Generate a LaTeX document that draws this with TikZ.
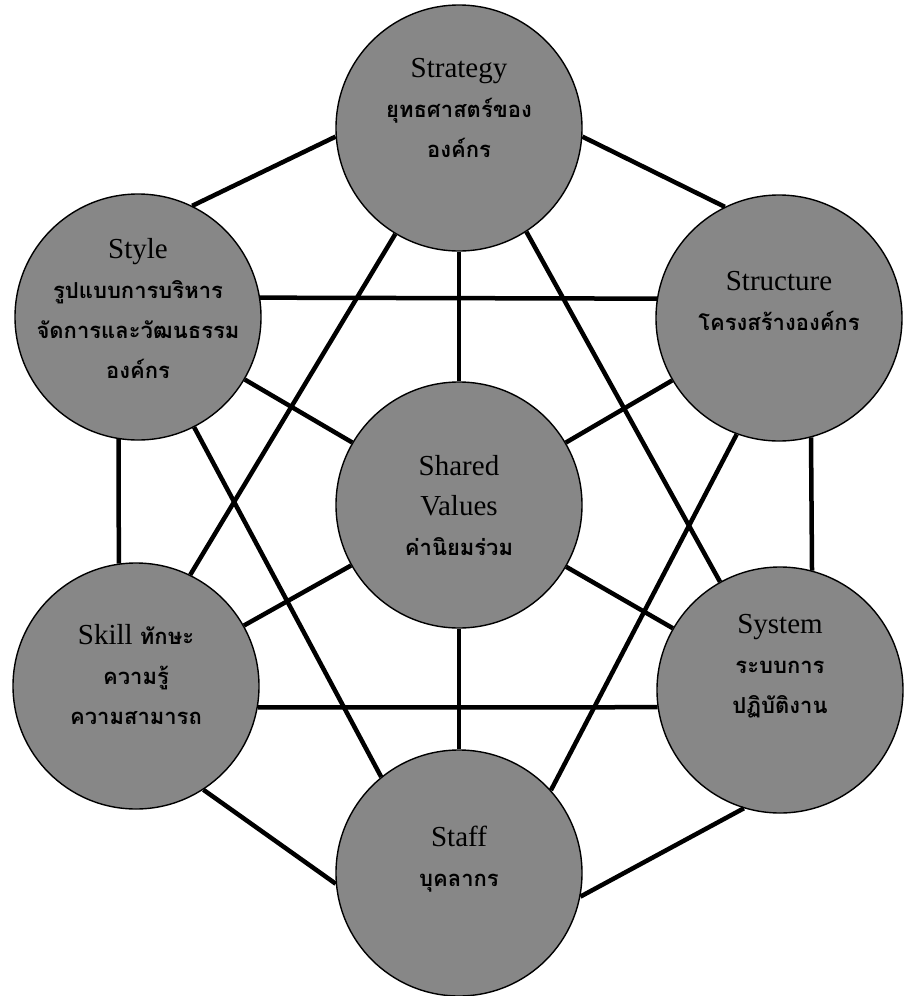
\documentclass[tikz,border=0pt]{standalone}
\usepackage{fontspec}
\setmainfont{Liberation Serif}
\newfontfamily\thaifont[Script=Thai]{Loma}
\newcommand{\thtxt}[1]{{\thaifont\bfseries\fontsize{22pt}{40pt}\selectfont #1}}

\begin{document}
\begin{tikzpicture}[x=1pt, y=-1pt,
    sbox/.style={draw, circle, minimum size=246pt, inner sep=0pt, fill=black!47, line width=1.4pt},
    ttext/.style={align=center, text=black, font=\fontsize{29pt}{40pt}\selectfont},
    link/.style={line width=4.5pt, black},
]
\useasboundingbox (0,0) rectangle (903,996);

% Outer ring
\node[sbox, label={[ttext, yshift=20pt]center:Strategy\\\thtxt{ยุทธศาสตร์ของ}\\\thtxt{องค์กร}}] (strategy) at (459,128) {};
\node[sbox, label={[ttext, yshift=17pt]center:Structure\\\thtxt{โครงสร้างองค์กร}}] (structure) at (779,318) {};
\node[sbox, label={[ttext, yshift=24pt]center:System\\\thtxt{ระบบการ}\\\thtxt{ปฏิบัติงาน}}] (system) at (780,690) {};
\node[sbox, label={[ttext, yshift=14pt]center:Staff\\\thtxt{บุคลากร}}] (staff) at (459,873) {};
\node[sbox, label={[ttext, yshift=12pt]center:Skill \thtxt{ทักษะ}\\\thtxt{ความรู้}\\\thtxt{ความสามารถ}}] (skill) at (136,686) {};
\node[sbox, label={[ttext, yshift=9pt]center:Style\\\thtxt{รูปแบบการบริหาร}\\\thtxt{จัดการและวัฒนธรรม}\\\thtxt{องค์กร}}] (style) at (138,317) {};

% Centre
\node[sbox, label={[ttext]center:Shared\\Values\\\thtxt{ค่านิยมร่วม}}] (shared) at (459,505) {};

% Ring links
\draw[link] (strategy.184) -- (style.64);
\draw[link] (strategy.-4) -- (structure.116);
\draw[link] (style.-99) -- (skill.98);
\draw[link] (structure.-75) -- (system.75);
\draw[link] (skill.-57) -- (staff.185);
\draw[link] (system.-107) -- (staff.-11);

% Cross links
\draw[link] (style.9) -- (structure.171);
\draw[link] (skill.-10) -- (system.188);
\draw[link] (strategy.-121) -- (skill.64);
\draw[link] (strategy.-57) -- (system.119);
\draw[link] (style.-63) -- (staff.129);
\draw[link] (structure.250) -- (staff.42);

% Spokes
\foreach \n in {strategy,structure,system,staff,skill,style}
  \draw[link] (shared) -- (\n);
\end{tikzpicture}
\end{document}
